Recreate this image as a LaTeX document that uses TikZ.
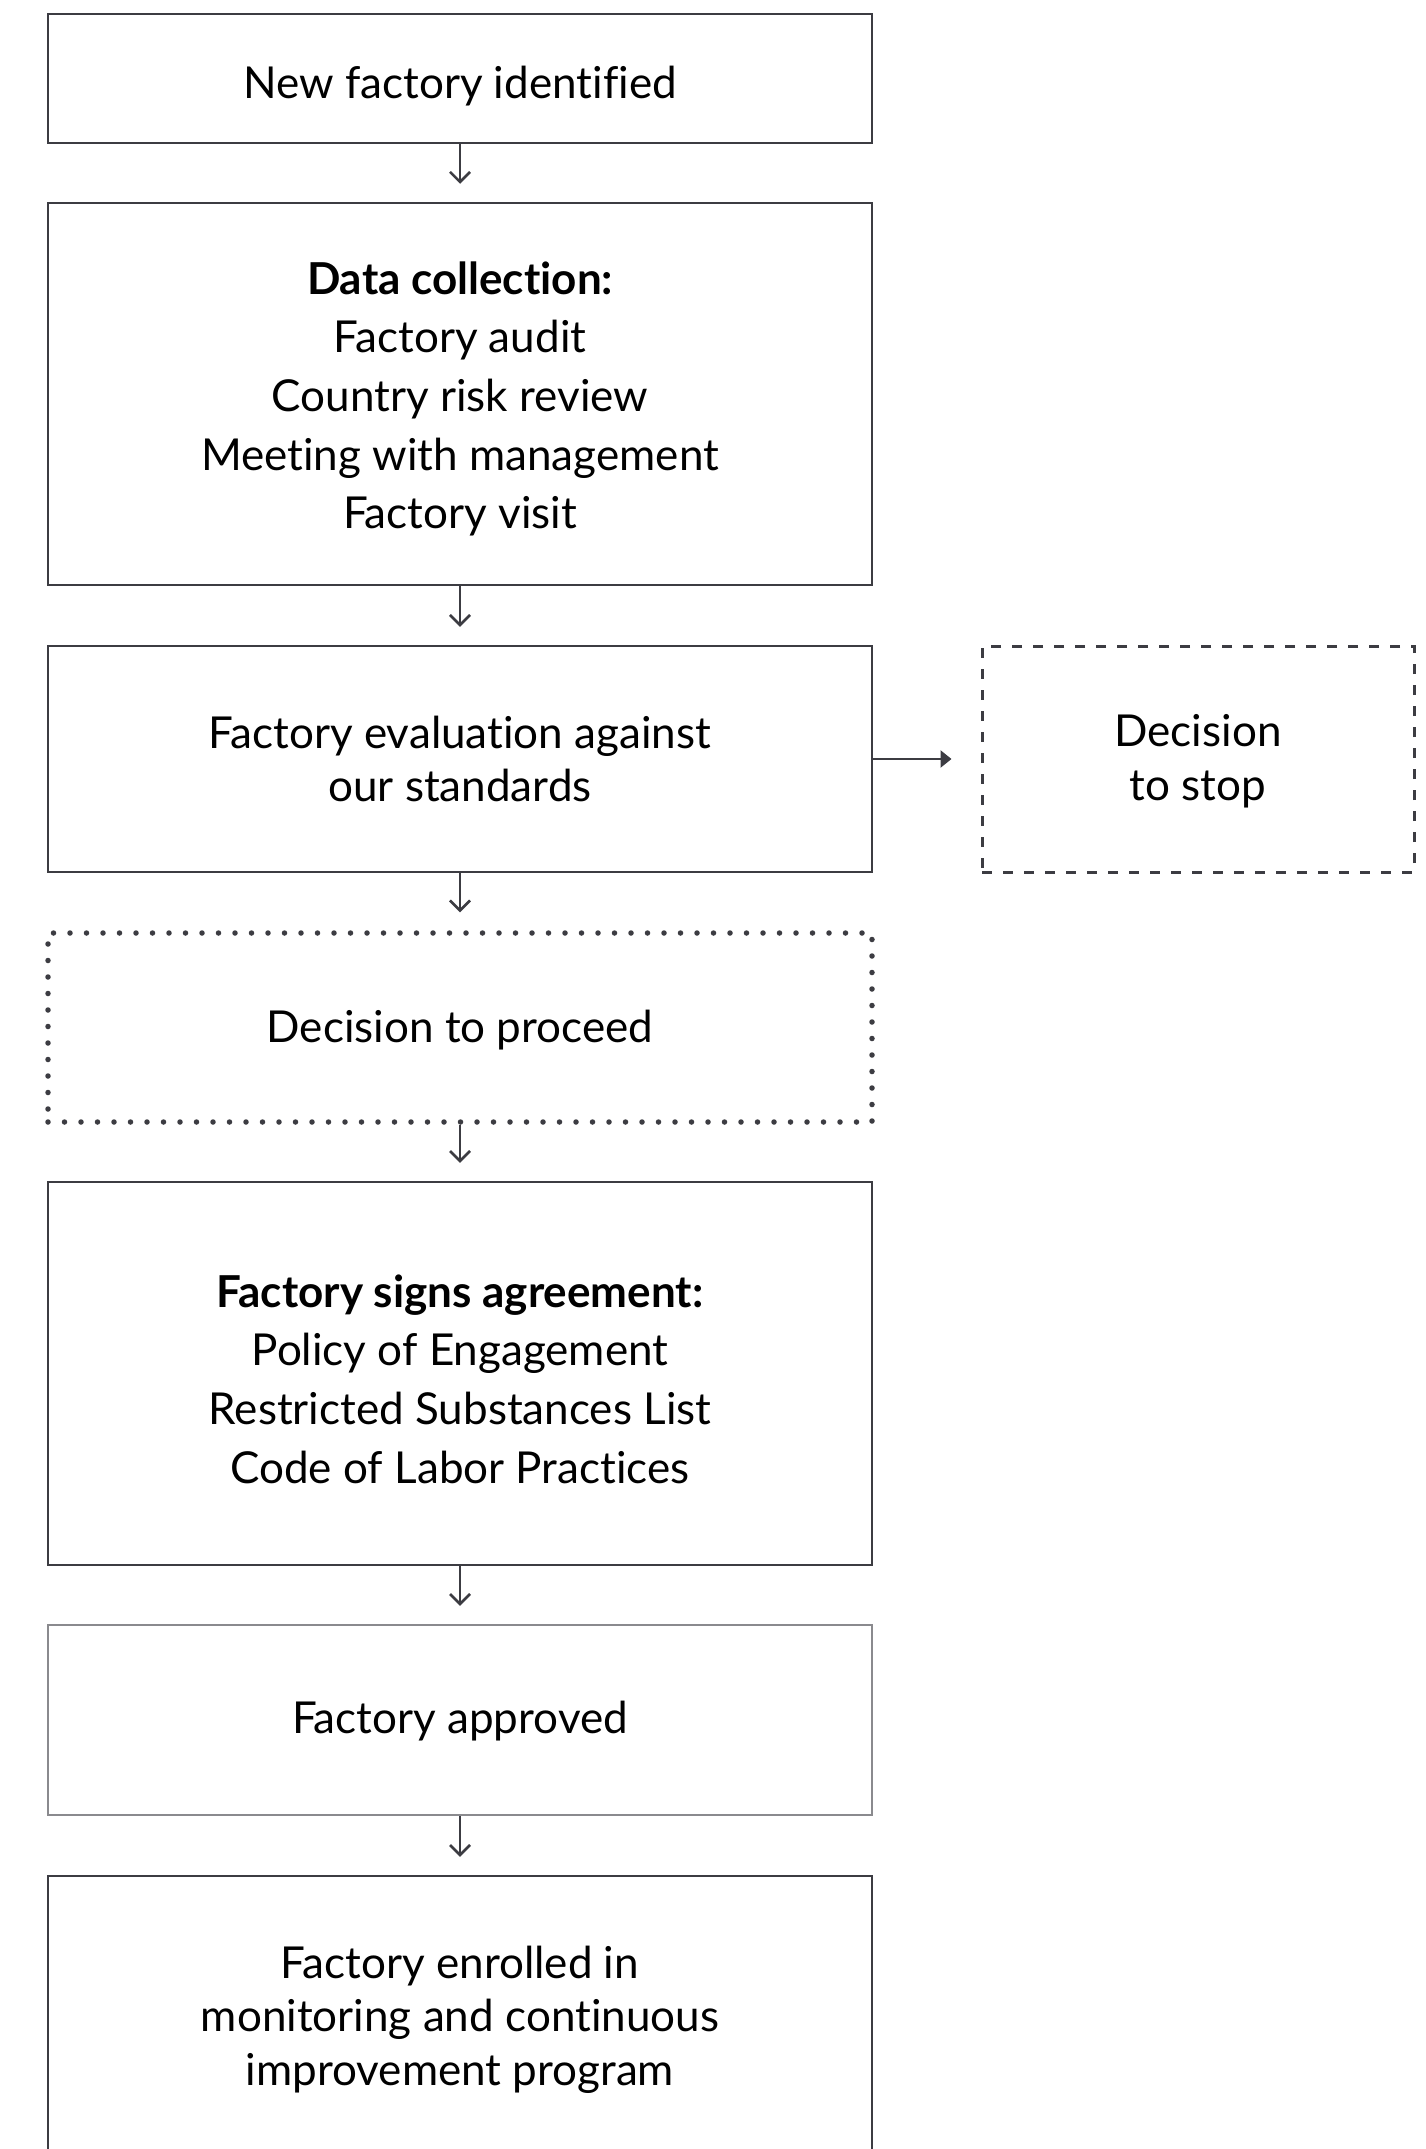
\documentclass[tikz,border=0pt]{standalone}
\usepackage{fontspec}
\setmainfont{Lato}[Ligatures=NoCommon]
\usetikzlibrary{arrows.meta}
\definecolor{edge}{HTML}{3C3C42}
\definecolor{edgelight}{HTML}{8A8A8E}
\tikzset{
  box/.style={draw=edge, line width=2.5pt, rectangle, minimum width=824pt, inner sep=0pt},
  lightbox/.style={box, draw=edgelight},
  stopbox/.style={box, minimum width=432pt, dash pattern=on 10pt off 11pt, line width=3pt},
  dotbox/.style={box, line width=5.5pt, line cap=round, dash pattern=on 0pt off 16.5pt},
  txt/.style={align=center, inner sep=0pt, font=\fontsize{44}{53.5}\selectfont},
  listtxt/.style={txt, font=\fontsize{44}{58.6}\selectfont},
  flow/.style={draw=edge, line width=2.5pt, -{Straight Barb[length=10pt,width=20pt]}, shorten >=18pt},
  flowright/.style={draw=edge, line width=2.5pt, -{Triangle[length=11pt,width=17pt]}, shorten >=29pt}
}
\begin{document}
\begin{tikzpicture}[x=1pt,y=-1pt]
\useasboundingbox[fill=white] (0,0) rectangle (1426,2149);
\node[box, minimum height=129pt] (b1) at (460,78.5) {};
\node[txt] (t1) at ([yshift=-8pt]b1.center) {New factory identified};
\node[box, minimum height=382pt] (b2) at (460,394) {};
\node[listtxt] (t2) at ([yshift=-5pt]b2.center) {\textbf{Data collection:}\\Factory audit\\Country risk review\\Meeting with management\\Factory visit};
\node[box, minimum height=226pt] (b3) at (460,759) {};
\node[txt] (t3) at (b3.center) {Factory evaluation against\\our standards};
\node[stopbox, minimum height=226pt] (stop) at (1198,759) {};
\node[txt] (tstop) at ([yshift=-2pt]stop.center) {Decision\\to stop};
\node[dotbox, minimum height=189pt] (b4) at (460,1027.5) {};
\node[txt] (t4) at ([yshift=-3pt]b4.center) {Decision to proceed};
\node[box, minimum height=383pt] (b5) at (460,1373.5) {};
\node[listtxt] (t5) at ([yshift=-5.5pt]b5.center) {\textbf{Factory signs agreement:}\\Policy of Engagement\\Restricted Substances List\\Code of Labor Practices};
\node[lightbox, minimum height=190pt] (b6) at (460,1720) {};
\node[txt] (t6) at ([yshift=-1pt]b6.center) {Factory approved};
\node[box, minimum height=280pt] (b7) at (460,2016) {};
\node[txt] (t7) at ([yshift=-3.5pt]b7.center) {Factory enrolled in\\monitoring and continuous\\improvement program};
\draw[flow] (b1.south) -- (b2.north);
\draw[flow] (b2.south) -- (b3.north);
\draw[flow] (b3.south) -- (b4.north);
\draw[flow] (b4.south) -- (b5.north);
\draw[flow] (b5.south) -- (b6.north);
\draw[flow] (b6.south) -- (b7.north);
\draw[flowright] (b3.east) -- (stop.west);
\end{tikzpicture}
\end{document}
